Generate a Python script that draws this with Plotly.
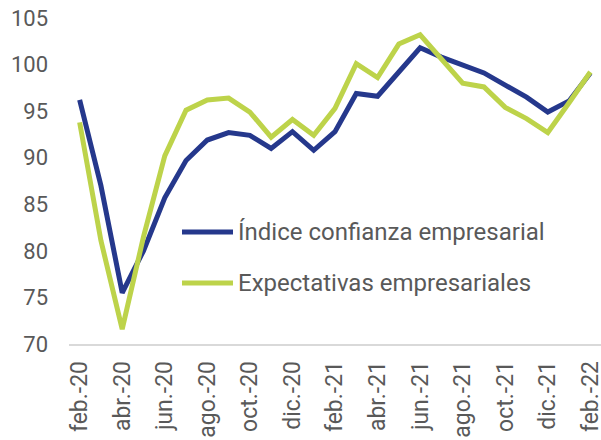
import plotly.graph_objects as go

months = ["feb.-20", "mar.-20", "abr.-20", "may.-20", "jun.-20", "jul.-20", "ago.-20",
          "sep.-20", "oct.-20", "nov.-20", "dic.-20", "ene.-21", "feb.-21", "mar.-21",
          "abr.-21", "may.-21", "jun.-21", "jul.-21", "ago.-21", "sep.-21", "oct.-21",
          "nov.-21", "dic.-21", "ene.-22", "feb.-22"]

indice_confianza = [96.2, 87.0, 75.5, 80.0, 85.7, 89.7, 91.9, 92.7, 92.4, 91.0, 92.8, 90.8,
                    92.8, 96.9, 96.6, 99.2, 101.8, 100.8, 99.9, 99.1, 97.8, 96.5, 94.9,
                    96.1, 99.1]
expectativas = [93.8, 81.1, 71.6, 81.5, 90.2, 95.1, 96.2, 96.4, 94.9, 92.2, 94.1, 92.4,
                95.3, 100.1, 98.6, 102.2, 103.2, 100.5, 98.0, 97.6, 95.4, 94.2, 92.7,
                95.9, 99.2]

tick_labels = months[::2]

name1 = "Índice confianza empresarial"
name2 = "Expectativas empresariales"
c1 = "#25388C"
c2 = "#BDD34A"

fig = go.Figure()
fig.add_trace(go.Scatter(x=months, y=indice_confianza, mode="lines", name=name1,
                         line=dict(color=c1, width=5), showlegend=False))
fig.add_trace(go.Scatter(x=months, y=expectativas, mode="lines", name=name2,
                         line=dict(color=c2, width=5), showlegend=False))

W, H = 601, 440
L, R, T, B = 69, 601, 18, 344   # plot-area edges in window pixels
def px(x):
    return (x - L) / (R - L)
def py(y):
    return (B - y) / (B - T)

for yy, col, nm in [(232, c1, name1), (283, c2, name2)]:
    fig.add_shape(type="line", xref="paper", yref="paper",
                  x0=px(182), x1=px(233), y0=py(yy), y1=py(yy),
                  line=dict(color=col, width=5))
    fig.add_annotation(xref="paper", yref="paper", x=px(236), y=py(yy),
                       text=nm, showarrow=False, xanchor="left", yanchor="middle",
                       font=dict(family="Roboto", size=24, color="#595959"))

fig.update_layout(
    width=W, height=H,
    margin=dict(l=L, r=W - R, t=T, b=H - B),
    paper_bgcolor="white", plot_bgcolor="white",
    font=dict(family="Roboto", color="#595959"),
    showlegend=False,
)
fig.update_xaxes(type="category", range=[-0.5, 24.5], tickmode="array",
                 tickvals=tick_labels, ticktext=tick_labels, tickangle=-90,
                 tickfont=dict(size=23, color="#595959"), automargin=False,
                 showline=True, linecolor="#D9D9D9", linewidth=1.5,
                 showgrid=False, ticks="", zeroline=False, ticklabelstandoff=6,
                 ticklabeloverflow="allow")
fig.update_yaxes(range=[70, 105], dtick=5, tickfont=dict(size=22, color="#595959"),
                 showgrid=False, showline=False, zeroline=False, ticks="",
                 automargin=False, ticklabelstandoff=20, ticklabeloverflow="allow")

fig.write_html("out.html", config={"displayModeBar": False},
               post_script="document.body.style.margin='0';document.body.style.overflow='hidden';")
